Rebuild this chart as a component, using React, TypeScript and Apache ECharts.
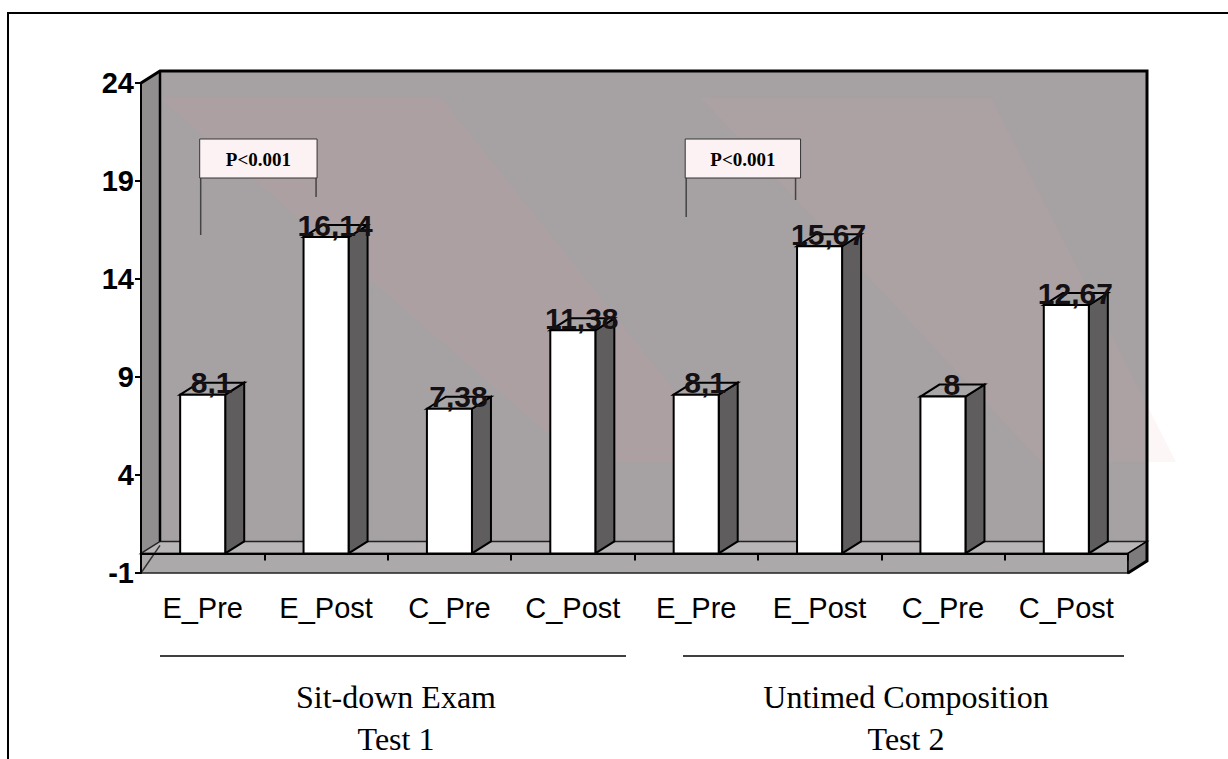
import React, { useEffect, useRef } from 'react';
import * as echarts from 'echarts';

const categories = ['E_Pre', 'E_Post', 'C_Pre', 'C_Post', 'E_Pre', 'E_Post', 'C_Pre', 'C_Post'];
const scores = [8.1, 16.14, 7.38, 11.38, 8.1, 15.67, 8, 12.67];
const yMin = -1;
const yMax = 24;
const yStep = 5;
const groupTitles = ['Sit-down Exam', 'Untimed Composition'];
const groupSubtitles = ['Test 1', 'Test 2'];
const pLabels = ['P<0.001', 'P<0.001'];

const GRID = { left: 141, top: 83, width: 987, height: 490 };
const DX = 19;
const DY = 12;

const fmt = (v: number) => String(v).replace('.', ',');

const renderBar = (params: any, api: any) => {
  const idx = api.value(0);
  const v = api.value(1);
  const top = api.coord([idx, v]);
  const base = api.coord([idx, 0]);
  const bw = api.size([1, 0])[0] * 0.365;
  const x0 = top[0] - bw / 2;
  const x1 = top[0] + bw / 2;
  const t = top[1];
  const b = base[1];
  return {
    type: 'group',
    children: [
      {
        type: 'polygon',
        shape: { points: [[x1, t], [x1 + DX, t - DY], [x1 + DX, b - DY], [x1, b]] },
        style: { fill: '#5f5d5e', stroke: '#000', lineWidth: 2 },
      },
      {
        type: 'polygon',
        shape: { points: [[x0, t], [x0 + DX, t - DY], [x1 + DX, t - DY], [x1, t]] },
        style: { fill: '#a8a6a7', stroke: '#000', lineWidth: 2 },
      },
      {
        type: 'rect',
        shape: { x: x0, y: t, width: bw, height: b - t },
        style: { fill: '#ffffff', stroke: '#000', lineWidth: 2 },
      },
      {
        type: 'text',
        x: top[0] + 9,
        y: t + 3,
        style: {
          text: fmt(v),
          font: 'bold 30px "Liberation Sans", Arial, sans-serif',
          fill: '#141014',
          align: 'center',
          verticalAlign: 'bottom',
        },
      },
    ],
  };
};

export default function App() {
  const ref = useRef<HTMLDivElement>(null);
  useEffect(() => {
    if (!ref.current) return;
    const chart = echarts.init(ref.current, undefined, { renderer: 'svg' });
    const base: any = {
      animation: false,
      backgroundColor: '#ffffff',
      grid: { left: GRID.left, top: GRID.top, width: GRID.width, height: GRID.height, containLabel: false },
      xAxis: {
        type: 'category',
        data: categories,
        z: 3,
        axisLine: { show: true, lineStyle: { color: '#000', width: 2 } },
        axisTick: { show: true, interval: 0, alignWithLabel: false, length: 7, lineStyle: { color: '#000', width: 2 } },
        axisLabel: {
          interval: 0,
          hideOverlap: false,
          color: '#000',
          fontSize: 29,
          fontFamily: '"Liberation Sans", Arial, sans-serif',
          margin: 20,
        },
        splitLine: { show: false },
      },
      yAxis: {
        type: 'value',
        min: yMin,
        max: yMax,
        interval: yStep,
        z: 3,
        axisLine: { show: true, lineStyle: { color: '#000', width: 2 } },
        axisTick: { show: true, length: 6, lineStyle: { color: '#000', width: 2 } },
        axisLabel: {
          color: '#000',
          fontSize: 29,
          fontWeight: 'bold',
          fontFamily: '"Liberation Sans", Arial, sans-serif',
          margin: 7,
        },
        splitLine: { show: false },
      },
      series: [
        {
          type: 'custom',
          z: 5,
          renderItem: renderBar,
          encode: { x: 0, y: 1 },
          data: scores.map((v, i) => [i, v]),
        },
      ],
    };
    chart.setOption(base);

    const yp = (v: number) => chart.convertToPixel({ yAxisIndex: 0 }, v) as number;
    const xp = (i: number) => chart.convertToPixel({ xAxisIndex: 0 }, i) as number;
    const L = GRID.left;
    const R = GRID.left + GRID.width;
    const yT = yp(yMax);
    const y0 = yp(0);
    const yB = yp(yMin);

    const wallFill = '#a6a2a4';
    const graphics: any[] = [
      // back wall
      { type: 'rect', z: 0, shape: { x: L + DX, y: yT - DY, width: R - L, height: y0 - yT }, style: { fill: wallFill } },
      // faint watermark bands
      {
        type: 'polygon', z: 1,
        shape: { points: [[L + DX, yT + 15], [L + 300, yT + 15], [L + 590, 462], [L + 440, 462]] },
        style: { fill: 'rgba(235,150,160,0.10)' },
      },
      {
        type: 'polygon', z: 1,
        shape: { points: [[L + 560, yT + 15], [L + 850, yT + 15], [L + 1035, 462], [L + 900, 462]] },
        style: { fill: 'rgba(235,150,160,0.09)' },
      },
      // left wall
      {
        type: 'polygon', z: 0,
        shape: { points: [[L, yT], [L + DX, yT - DY], [L + DX, y0 - DY], [L, y0]] },
        style: { fill: '#918e90' },
      },
      // floor top
      {
        type: 'polygon', z: 0,
        shape: { points: [[L, y0], [L + DX, y0 - DY], [R + DX, y0 - DY], [R, y0]] },
        style: { fill: '#b9b6b8', stroke: '#222', lineWidth: 1.5 },
      },
      // slab front
      { type: 'rect', z: 0, shape: { x: L, y: y0, width: R - L, height: yB - y0 }, style: { fill: '#aba9aa', stroke: '#222', lineWidth: 1.5 } },
      // slab right side
      {
        type: 'polygon', z: 0,
        shape: { points: [[R, y0], [R + DX, y0 - DY], [R + DX, yB - DY], [R, yB]] },
        style: { fill: '#7d7b7c', stroke: '#000', lineWidth: 1.5 },
      },
      // outlines
      {
        type: 'polyline', z: 2,
        shape: { points: [[L, yT], [L + DX, yT - DY], [R + DX, yT - DY], [R + DX, yB - DY], [R, yB]] },
        style: { stroke: '#000', lineWidth: 3, fill: 'none' },
      },
      {
        type: 'line', z: 2,
        shape: { x1: L + DX, y1: yT - DY, x2: L + DX, y2: y0 - DY },
        style: { stroke: '#000', lineWidth: 2.5 },
      },
      {
        type: 'line', z: 2,
        shape: { x1: L, y1: yB, x2: L + DX, y2: y0 - DY + 4 },
        style: { stroke: '#333', lineWidth: 1.5 },
      },
      // outer frame
      { type: 'rect', z: 0, shape: { x: 8, y: 13, width: 1240, height: 760 }, style: { fill: 'none', stroke: '#000', lineWidth: 2 } },
    ];

    // P annotation boxes
    const pBoxes = [
      { left: xp(0) - 3, right: xp(1) - 9, lx: xp(0) - 2, ly: 235, rx: xp(1) - 10, ry: 197 },
      { left: xp(4) - 11, right: xp(5) - 19, lx: xp(4) - 10, ly: 217, rx: xp(5) - 24, ry: 200 },
    ];
    pBoxes.forEach((b, i) => {
      graphics.push(
        { type: 'line', z: 8, shape: { x1: b.lx, y1: 178, x2: b.lx, y2: b.ly }, style: { stroke: '#444', lineWidth: 1.5 } },
        { type: 'line', z: 8, shape: { x1: b.rx, y1: 178, x2: b.rx, y2: b.ry }, style: { stroke: '#444', lineWidth: 1.5 } },
        { type: 'rect', z: 9, shape: { x: b.left, y: 139, width: b.right - b.left, height: 39 }, style: { fill: '#fdf2f3', stroke: '#333', lineWidth: 1 } },
        {
          type: 'text', z: 10, x: (b.left + b.right) / 2, y: 159,
          style: { text: pLabels[i], font: 'bold 19px "Liberation Serif", "Times New Roman", serif', fill: '#000', align: 'center', verticalAlign: 'middle' },
        }
      );
    });

    // group lines and titles
    const groups = [
      { x1: 160, x2: 626, cx: 396 },
      { x1: 683, x2: 1124, cx: 906 },
    ];
    groups.forEach((g, i) => {
      graphics.push(
        { type: 'line', z: 2, shape: { x1: g.x1, y1: 656, x2: g.x2, y2: 656 }, style: { stroke: '#000', lineWidth: 1.5 } },
        {
          type: 'text', z: 2, x: g.cx, y: 697,
          style: { text: groupTitles[i], font: '32px "Liberation Serif", "Times New Roman", serif', fill: '#000', align: 'center', verticalAlign: 'middle' },
        },
        {
          type: 'text', z: 2, x: g.cx, y: 739,
          style: { text: groupSubtitles[i], font: '32px "Liberation Serif", "Times New Roman", serif', fill: '#000', align: 'center', verticalAlign: 'middle' },
        }
      );
    });

    chart.setOption({ graphic: { elements: graphics } });
    return () => chart.dispose();
  }, []);
  return <div ref={ref} style={{ position: 'fixed', left: 0, top: 0, width: 1228, height: 759 }} />;
}
